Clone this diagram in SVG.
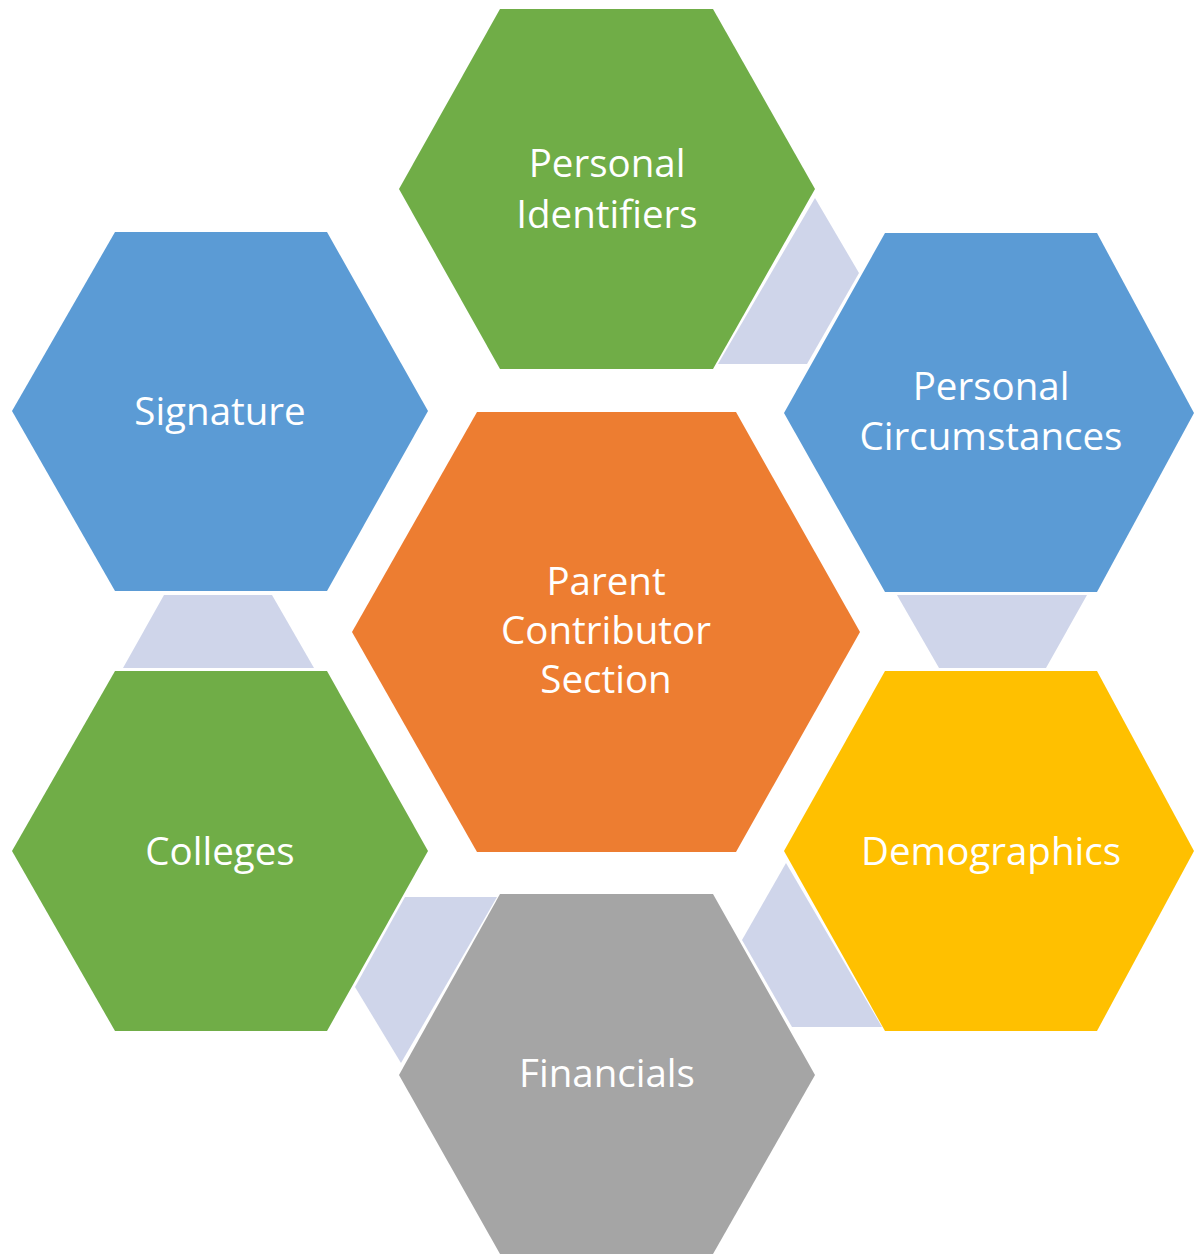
<svg xmlns="http://www.w3.org/2000/svg" width="1194" height="1254" viewBox="0 0 1194 1254">
<style>
.lbl{font-family:"Open Sans","Liberation Sans",sans-serif;font-size:38.5px;fill:#ffffff;text-anchor:middle}
.con{fill:#CFD5EA}
</style>
<rect width="1194" height="1254" fill="#ffffff"/>
<g id="connectors">
<polygon class="con" points="815,198 859,273 807,364 718,364"/>
<polygon class="con" points="897,595 1087,595 1046,668 939,668"/>
<polygon class="con" points="786,863 882,1027 792,1027 742,940"/>
<polygon class="con" points="405,897 497,897 401,1063 355,987"/>
<polygon class="con" points="164,595 272,595 314,668 123,668"/>
</g>
<g id="personal-identifiers">
<polygon fill="#70AD47" points="500,9 713,9 815,189 713,369 500,369 399,189"/>
<text class="lbl" x="607" y="177">Personal</text>
<text class="lbl" x="607" y="228">Identifiers</text>
</g>
<g id="personal-circumstances">
<polygon fill="#5B9BD5" points="885,233 1097,233 1194,413 1097,592 885,592 784,413"/>
<text class="lbl" x="991" y="400">Personal</text>
<text class="lbl" x="991" y="450">Circumstances</text>
</g>
<g id="signature">
<polygon fill="#5B9BD5" points="115,232 327,232 428,411 327,591 115,591 12,411"/>
<text class="lbl" x="220" y="425">Signature</text>
</g>
<g id="parent-contributor-section">
<polygon fill="#ED7D31" points="477,412 736,412 860,632 736,852 477,852 352,632"/>
<text class="lbl" x="606" y="595">Parent</text>
<text class="lbl" x="606" y="644">Contributor</text>
<text class="lbl" x="606" y="693">Section</text>
</g>
<g id="colleges">
<polygon fill="#70AD47" points="115,671 327,671 428,851 327,1031 115,1031 12,851"/>
<text class="lbl" x="220" y="865">Colleges</text>
</g>
<g id="demographics">
<polygon fill="#FFC000" points="885,671 1097,671 1194,851 1097,1031 885,1031 784,851"/>
<text class="lbl" x="991" y="865">Demographics</text>
</g>
<g id="financials">
<polygon fill="#A5A5A5" points="500,894 713,894 815,1075 713,1254 500,1254 399,1075"/>
<text class="lbl" x="607" y="1087">Financials</text>
</g>
</svg>
